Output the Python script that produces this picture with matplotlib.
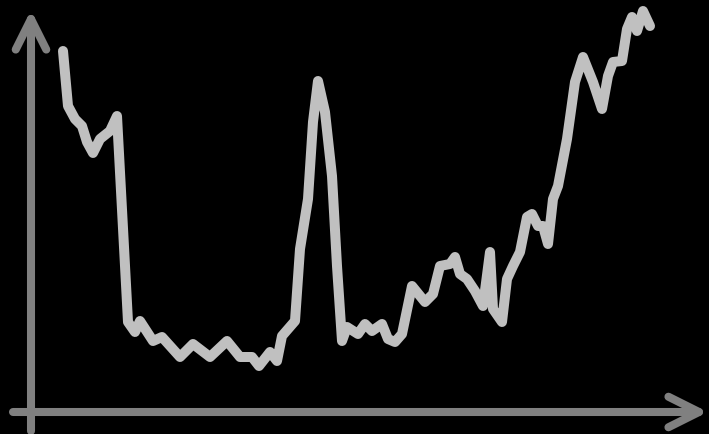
import matplotlib.pyplot as plt
import numpy as np

# traced series: position along the x axis and height above it
x = [32, 37, 44, 51, 56, 62, 69, 79, 86, 97,
     104, 109, 122, 131, 149, 162, 179, 196, 209, 221,
     228, 239, 246, 251, 264, 269, 277, 282, 287, 294,
     301, 306, 311, 316, 327, 334, 341, 351, 357, 364,
     371, 381, 394, 402, 409, 419, 424, 429, 436, 444,
     452, 459, 462, 471, 476, 482, 489, 496, 501, 507,
     512, 517, 522, 527, 536, 544, 552, 562, 571, 577,
     582, 591, 596, 601, 606, 612, 619]
y = [361, 306, 293, 286, 270, 259, 273, 281, 296, 90,
     80, 91, 71, 75, 55, 68, 55, 71, 55, 55,
     46, 60, 51, 76, 91, 163, 213, 290, 331, 300,
     236, 146, 71, 85, 78, 88, 81, 88, 73, 70,
     78, 126, 110, 118, 146, 148, 155, 138, 133, 121,
     106, 160, 103, 90, 133, 146, 160, 195, 198, 186,
     186, 168, 213, 226, 273, 330, 355, 330, 303, 336,
     350, 351, 383, 395, 381, 401, 386]

fig = plt.figure(figsize=(7.09, 4.35), dpi=100)
fig.patch.set_facecolor('black')
ax = fig.add_axes([0, 0, 1, 1])
ax.set_facecolor('black')
ax.set_xlim(-31, 678)
ax.set_ylim(-22, 413)
ax.axis('off')

axis_col = '#808080'
arrow = dict(arrowstyle='->,head_length=2.2,head_width=1.1', color=axis_col, lw=5.8,
             shrinkA=0, shrinkB=0, capstyle='round', joinstyle='round')
ax.annotate('', xy=(0, 402), xytext=(0, -19), arrowprops=arrow)
ax.annotate('', xy=(677, 0), xytext=(-18, 0), arrowprops=arrow)

ax.plot(x, y, color='#c0c0c0', lw=7.2, solid_capstyle='round', solid_joinstyle='round')

fig.savefig('out.png', dpi=100, facecolor='black')
